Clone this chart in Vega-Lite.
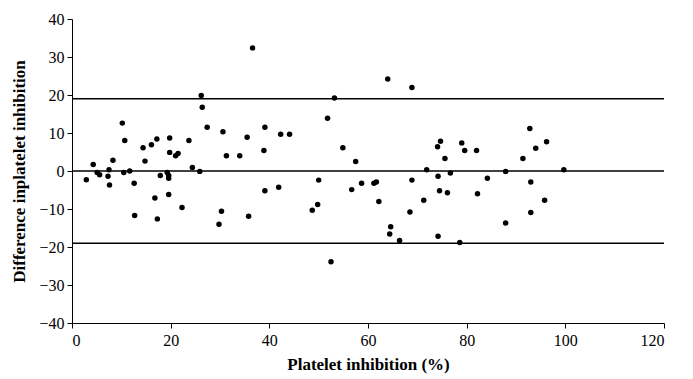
{
  "$schema": "https://vega.github.io/schema/vega-lite/v6.json",
  "width": 592,
  "height": 304,
  "autosize": "none",
  "padding": {"left": 72, "top": 19, "right": 29, "bottom": 56},
  "background": "white",
  "config": {
    "view": {"stroke": null},
    "axis": {
      "grid": false, "domainColor": "black", "tickColor": "black", "tickSize": 5,
      "labelOverlap": false,
      "labelFont": "Liberation Serif", "labelFontSize": 16, "labelColor": "black",
      "titleFont": "Liberation Serif", "titleFontSize": 17, "titleFontWeight": "bold", "titleColor": "black"
    }
  },
  "datasets": {
    "pts": [
      {"x": 2.9, "y": -2.3}, {"x": 4.3, "y": 1.7}, {"x": 5.1, "y": -0.4}, {"x": 5.6, "y": -1.0},
      {"x": 7.3, "y": -1.4}, {"x": 7.5, "y": 0.3}, {"x": 7.6, "y": -3.7}, {"x": 8.3, "y": 2.8},
      {"x": 10.2, "y": 12.6}, {"x": 10.7, "y": 8.0}, {"x": 10.5, "y": -0.4}, {"x": 11.7, "y": 0.0},
      {"x": 12.6, "y": -3.2}, {"x": 12.7, "y": -11.7}, {"x": 14.4, "y": 6.1}, {"x": 14.8, "y": 2.6},
      {"x": 16.1, "y": 6.9}, {"x": 16.8, "y": -7.1}, {"x": 17.2, "y": 8.4}, {"x": 17.3, "y": -12.6},
      {"x": 17.9, "y": -1.2}, {"x": 19.3, "y": -0.4}, {"x": 19.6, "y": -1.2}, {"x": 19.6, "y": -1.9},
      {"x": 19.8, "y": 8.7}, {"x": 19.8, "y": 4.9}, {"x": 19.6, "y": -6.2}, {"x": 21.0, "y": 4.0},
      {"x": 21.5, "y": 4.6}, {"x": 22.3, "y": -9.6}, {"x": 23.7, "y": 8.0}, {"x": 24.4, "y": 0.9},
      {"x": 25.9, "y": -0.1}, {"x": 26.2, "y": 19.9}, {"x": 26.4, "y": 16.8}, {"x": 27.4, "y": 11.5},
      {"x": 29.8, "y": -14.0}, {"x": 30.3, "y": -10.6}, {"x": 30.6, "y": 10.3}, {"x": 31.3, "y": 4.0},
      {"x": 34.0, "y": 4.0}, {"x": 35.5, "y": 8.9}, {"x": 35.8, "y": -11.9}, {"x": 36.6, "y": 32.4},
      {"x": 39.1, "y": 11.5}, {"x": 38.9, "y": 5.4}, {"x": 39.1, "y": -5.2}, {"x": 41.9, "y": -4.3},
      {"x": 42.3, "y": 9.7}, {"x": 44.1, "y": 9.7}, {"x": 48.7, "y": -10.3}, {"x": 49.8, "y": -8.8},
      {"x": 50.0, "y": -2.4}, {"x": 51.8, "y": 13.9}, {"x": 53.2, "y": 19.2}, {"x": 52.5, "y": -23.9},
      {"x": 54.9, "y": 6.1}, {"x": 57.5, "y": 2.5}, {"x": 56.7, "y": -4.9}, {"x": 58.7, "y": -3.2},
      {"x": 61.2, "y": -3.2}, {"x": 61.7, "y": -2.9}, {"x": 62.2, "y": -8.0}, {"x": 64.0, "y": 24.2},
      {"x": 64.6, "y": -14.7}, {"x": 64.4, "y": -16.6}, {"x": 66.4, "y": -18.3}, {"x": 68.5, "y": -10.8},
      {"x": 68.9, "y": 22.0}, {"x": 68.9, "y": -2.4}, {"x": 71.3, "y": -7.7}, {"x": 71.9, "y": 0.3},
      {"x": 74.2, "y": -1.4}, {"x": 74.1, "y": 6.4}, {"x": 74.5, "y": -5.2}, {"x": 74.2, "y": -17.2},
      {"x": 74.7, "y": 7.8}, {"x": 76.1, "y": -5.7}, {"x": 75.6, "y": 3.3}, {"x": 76.7, "y": -0.5},
      {"x": 78.6, "y": -18.8}, {"x": 79.0, "y": 7.4}, {"x": 79.6, "y": 5.4}, {"x": 82.0, "y": 5.4},
      {"x": 82.2, "y": -6.0}, {"x": 84.2, "y": -1.9}, {"x": 87.9, "y": -0.1}, {"x": 87.9, "y": -13.7},
      {"x": 91.4, "y": 3.3}, {"x": 92.8, "y": 11.2}, {"x": 93.0, "y": -2.9}, {"x": 93.0, "y": -10.9},
      {"x": 94.0, "y": 6.0}, {"x": 95.8, "y": -7.7}, {"x": 96.2, "y": 7.7}, {"x": 99.7, "y": 0.3}
    ],
    "lines": [{"v": 19}, {"v": 0}, {"v": -19}]
  },
  "layer": [
    {
      "data": {"name": "lines"},
      "mark": {"type": "rule", "color": "black", "strokeWidth": 1.6},
      "encoding": {
        "y": {
          "field": "v", "type": "quantitative", "scale": {"domain": [-40, 40], "nice": false},
          "axis": {
            "values": [-40, -30, -20, -10, 0, 10, 20, 30, 40],
            "title": "Difference inplatelet inhibition",
            "labelOverlap": false, "labelPadding": 3, "titlePadding": 10
          }
        }
      }
    },
    {
      "data": {"name": "pts"},
      "mark": {"type": "point", "shape": "circle", "filled": true, "color": "black", "opacity": 1, "size": 30},
      "encoding": {
        "x": {
          "field": "x", "type": "quantitative",
          "scale": {"domain": [0, 120], "nice": false},
          "axis": {
            "values": [0, 20, 40, 60, 80, 100, 120],
            "title": "Platelet inhibition (%)",
            "labelOverlap": false, "labelPadding": 4, "titlePadding": 8
          }
        },
        "y": {
          "field": "y", "type": "quantitative",
          "scale": {"domain": [-40, 40], "nice": false},
          "axis": {
            "values": [-40, -30, -20, -10, 0, 10, 20, 30, 40],
            "title": "Difference inplatelet inhibition",
            "labelOverlap": false, "labelPadding": 3, "titlePadding": 10
          }
        }
      }
    }
  ]
}
